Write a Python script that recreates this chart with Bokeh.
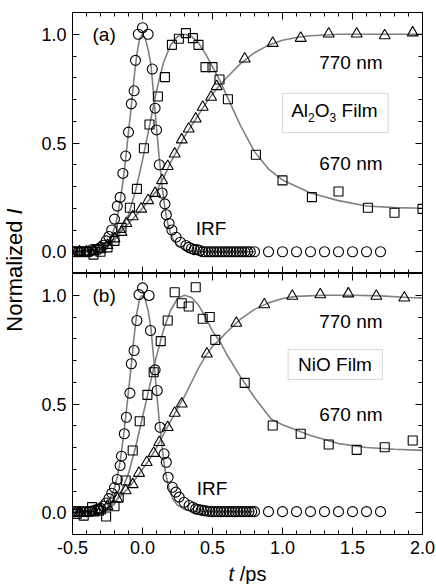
import math
from bokeh.plotting import figure
from bokeh.layouts import row, column
from bokeh.models import (Range1d, LinearAxis, SingleIntervalTicker,
                          PrintfTickFormatter, CustomJSTickFormatter, Label,
                          BoxAnnotation)
from bokeh.embed import file_html
from bokeh.resources import INLINE

# ---------------- data ----------------
# panel (a): Al2O3 film
a_irf_x = [-0.50, -0.48, -0.46, -0.44, -0.42, -0.40, -0.38, -0.36, -0.34, -0.32,
           -0.30, -0.28, -0.26, -0.24, -0.22, -0.20, -0.18, -0.16, -0.14, -0.12,
           -0.10, -0.08, -0.06, -0.05, -0.03, 0.00, 0.04, 0.07, 0.09, 0.10,
           0.12, 0.14, 0.16, 0.17, 0.19, 0.21, 0.24, 0.27, 0.31,
           0.33, 0.35, 0.37, 0.39, 0.41, 0.43, 0.45, 0.47, 0.49, 0.51, 0.53, 0.55,
           0.57, 0.59, 0.61, 0.63, 0.65, 0.67, 0.69, 0.71, 0.73, 0.75, 0.77,
           0.80, 0.90, 1.00, 1.10, 1.20, 1.30, 1.40, 1.50, 1.60, 1.70]
a_irf_y = [0.00, 0.00, 0.00, 0.00, 0.00, 0.00, 0.00, 0.01, 0.01, 0.01,
           0.02, 0.03, 0.05, 0.07, 0.10, 0.15, 0.21, 0.25, 0.36, 0.44,
           0.55, 0.68, 0.74, 0.88, 1.00, 1.03, 1.00, 0.84, 0.66, 0.56,
           0.40, 0.27, 0.22, 0.17, 0.13, 0.10, 0.067, 0.044, 0.029,
           0.02, 0.015, 0.01, 0.01, 0.005, 0.0, 0.0, 0.0, 0.0, 0.0, 0.0, 0.0,
           0.0, 0.0, 0.0, 0.0, 0.0, 0.0, 0.0, 0.0, 0.0, 0.0, 0.0,
           0.0, 0.0, 0.0, 0.0, 0.0, 0.0, 0.0, 0.0, 0.0, 0.0]
a_670_x = [-0.50, -0.45, -0.40, -0.35, -0.30, -0.25, -0.20, -0.15, -0.09, -0.04,
           0.01, 0.05, 0.11, 0.16, 0.21, 0.26, 0.31, 0.36, 0.40, 0.45, 0.50,
           0.55, 0.61, 0.81, 1.00, 1.21, 1.40, 1.61, 1.80, 2.00]
a_670_y = [0.00, 0.00, 0.00, -0.013, 0.00, 0.02, 0.05, 0.11, 0.202, 0.289,
           0.476, 0.585, 0.714, 0.803, 0.951, 0.979, 1.005, 0.982, 0.951, 0.849, 0.849,
           0.792, 0.701, 0.446, 0.328, 0.251, 0.277, 0.202, 0.179, 0.197]
a_770_x = [-0.45, -0.40, -0.35, -0.30, -0.25, -0.20, -0.15, -0.115, -0.07, -0.01,
           0.04, 0.09, 0.14, 0.18, 0.23, 0.28, 0.33, 0.38, 0.43, 0.49, 0.53,
           0.73, 0.93, 1.13, 1.33, 1.53, 1.73, 1.93]
a_770_y = [0.00, 0.00, 0.00, 0.01, 0.03, 0.06, 0.09, 0.131, 0.162, 0.197,
           0.236, 0.269, 0.328, 0.393, 0.45, 0.515, 0.565, 0.611, 0.665, 0.711, 0.76,
           0.887, 0.959, 0.982, 1.002, 1.002, 0.994, 1.007]
# fitted curves, panel (a)
a_irf_fit_x = [-0.50, -0.35, -0.30, -0.25, -0.22, -0.20, -0.18, -0.16, -0.14, -0.12,
               -0.10, -0.08, -0.06, -0.04, -0.02, 0.00, 0.02, 0.04, 0.06, 0.08,
               0.10, 0.12, 0.14, 0.16, 0.18, 0.20, 0.22, 0.25, 0.30, 0.35, 0.40, 0.80]
a_irf_fit_y = [0.00, 0.005, 0.015, 0.04, 0.075, 0.11, 0.16, 0.23, 0.32, 0.43,
               0.55, 0.67, 0.80, 0.91, 0.98, 1.00, 0.98, 0.93, 0.86, 0.72,
               0.57, 0.43, 0.30, 0.20, 0.13, 0.085, 0.055, 0.03, 0.01, 0.004, 0.0, 0.0]
a_670_fit_x = [-0.50, -0.30, -0.20, -0.10, -0.05, 0.00, 0.05, 0.10, 0.15, 0.20,
               0.25, 0.30, 0.35, 0.40, 0.45, 0.50, 0.55, 0.60, 0.70, 0.80, 0.90,
               1.00, 1.20, 1.40, 1.60, 1.80, 2.00]
a_670_fit_y = [0.00, 0.00, 0.05, 0.17, 0.28, 0.42, 0.58, 0.74, 0.87, 0.95,
               0.99, 1.00, 0.99, 0.96, 0.91, 0.85, 0.79, 0.72, 0.58, 0.46, 0.38,
               0.33, 0.27, 0.235, 0.21, 0.203, 0.20]
a_770_fit_x = [-0.50, -0.30, -0.20, -0.10, 0.00, 0.10, 0.15, 0.20, 0.25, 0.30,
               0.35, 0.40, 0.45, 0.50, 0.55, 0.60, 0.70, 0.80, 0.90, 1.00, 1.10,
               1.20, 1.40, 1.60, 1.80, 2.00]
a_770_fit_y = [0.00, 0.01, 0.06, 0.13, 0.20, 0.28, 0.34, 0.41, 0.47, 0.53,
               0.58, 0.63, 0.68, 0.725, 0.765, 0.80, 0.865, 0.915, 0.95, 0.972, 0.985,
               0.993, 1.0, 1.0, 1.0, 1.0]

# panel (b): NiO film
b_irf_x = [-0.50, -0.48, -0.46, -0.44, -0.42, -0.40, -0.38, -0.36, -0.34, -0.32,
           -0.30, -0.28, -0.26, -0.24, -0.22, -0.20, -0.18, -0.16, -0.15, -0.13,
           -0.115, -0.09, -0.08, -0.06, -0.04, -0.025, 0.00, 0.047, 0.057, 0.09,
           0.105, 0.125, 0.154, 0.17, 0.183, 0.214, 0.238, 0.262, 0.297, 0.333,
           0.36, 0.38, 0.40, 0.42, 0.44, 0.46, 0.48, 0.50, 0.52, 0.54, 0.56,
           0.58, 0.60, 0.62, 0.64, 0.66, 0.68, 0.70, 0.72, 0.74, 0.76, 0.78,
           0.80, 0.90, 1.00, 1.10, 1.20, 1.30, 1.40, 1.50, 1.60, 1.70]
b_irf_y = [0.005, 0.005, 0.005, 0.005, 0.005, 0.005, 0.005, 0.008, 0.012, 0.016,
           0.02, 0.03, 0.045, 0.065, 0.09, 0.115, 0.153, 0.217, 0.26, 0.363,
           0.439, 0.55, 0.685, 0.746, 0.884, 1.003, 1.034, 0.999, 0.838, 0.657,
           0.562, 0.393, 0.271, 0.232, 0.163, 0.117, 0.095, 0.072, 0.048, 0.033,
           0.025, 0.018, 0.015, 0.012, 0.01, 0.008, 0.006, 0.005, 0.005, 0.005, 0.005,
           0.005, 0.005, 0.005, 0.005, 0.005, 0.005, 0.005, 0.005, 0.005, 0.005, 0.005,
           0.005, 0.005, 0.005, 0.005, 0.005, 0.005, 0.005, 0.005, 0.005, 0.005]
b_670_x = [-0.47, -0.42, -0.36, -0.31, -0.26, -0.20, -0.17, -0.12, -0.07, -0.02,
           0.035, 0.08, 0.13, 0.18, 0.23, 0.28, 0.33, 0.38, 0.43, 0.48, 0.52,
           0.73, 0.93, 1.13, 1.33, 1.53, 1.73, 1.93]
b_670_y = [-0.005, -0.013, 0.026, 0.01, -0.017, 0.03, 0.07, 0.148, 0.286, 0.421,
           0.542, 0.646, 0.789, 0.884, 1.014, 0.963, 0.948, 1.037, 0.892, 0.90, 0.795,
           0.597, 0.401, 0.363, 0.314, 0.289, 0.301, 0.332]
b_770_x = [-0.45, -0.40, -0.35, -0.30, -0.25, -0.18, -0.12, -0.07, -0.025, 0.03,
           0.08, 0.12, 0.18, 0.23, 0.28, 0.46, 0.67, 0.87, 1.07, 1.27, 1.47,
           1.67, 1.87]
b_770_y = [0.00, 0.00, 0.00, 0.01, 0.03, 0.064, 0.102, 0.13, 0.182, 0.232,
           0.274, 0.324, 0.393, 0.458, 0.501, 0.731, 0.872, 0.957, 0.996, 1.003, 1.007,
           0.996, 0.988]
b_irf_fit_x = a_irf_fit_x
b_irf_fit_y = [0.005, 0.008, 0.018, 0.045, 0.08, 0.115, 0.165, 0.235, 0.33, 0.44,
               0.56, 0.68, 0.81, 0.92, 0.985, 1.00, 0.98, 0.93, 0.85, 0.71,
               0.56, 0.42, 0.30, 0.20, 0.135, 0.09, 0.06, 0.035, 0.015, 0.008, 0.005, 0.005]
b_670_fit_x = [-0.50, -0.30, -0.25, -0.20, -0.15, -0.10, -0.05, 0.00, 0.05, 0.10,
               0.15, 0.20, 0.25, 0.30, 0.35, 0.40, 0.45, 0.50, 0.55, 0.60, 0.70,
               0.80, 0.92, 1.00, 1.20, 1.40, 1.60, 1.80, 2.00]
b_670_fit_y = [0.00, 0.00, 0.01, 0.04, 0.10, 0.18, 0.30, 0.44, 0.58, 0.72,
               0.84, 0.93, 0.985, 1.00, 0.99, 0.955, 0.90, 0.835, 0.79, 0.73, 0.625,
               0.53, 0.43, 0.405, 0.355, 0.318, 0.30, 0.292, 0.287]
b_770_fit_x = [-0.50, -0.30, -0.25, -0.20, -0.15, -0.10, -0.05, 0.00, 0.05, 0.10,
               0.15, 0.20, 0.25, 0.30, 0.35, 0.40, 0.45, 0.50, 0.55, 0.60, 0.70,
               0.80, 0.90, 1.00, 1.10, 1.30, 1.50, 1.70, 1.90, 2.00]
b_770_fit_y = [0.00, 0.00, 0.02, 0.05, 0.08, 0.115, 0.155, 0.20, 0.245, 0.30,
               0.36, 0.42, 0.48, 0.535, 0.60, 0.665, 0.72, 0.765, 0.795, 0.83, 0.89,
               0.935, 0.965, 0.985, 0.995, 1.0, 1.0, 0.997, 0.99, 0.988]

x_ticks_interval = 0.5
y_ticks_interval = 0.5

FONT = "Liberation Sans"
GRAY = "#808080"

x_range = Range1d(-0.5, 2.0)


def style_axis(ax, labels):
    ax.axis_line_color = "black"
    ax.major_tick_line_color = "black"
    ax.minor_tick_line_color = "black"
    ax.major_tick_in = 7
    ax.major_tick_out = 0
    ax.minor_tick_in = 4
    ax.minor_tick_out = 0
    ax.major_label_text_font = FONT
    ax.major_label_text_color = "black"
    if labels:
        ax.major_label_text_font_size = "18px"
        ax.major_label_standoff = 6
    else:
        ax.formatter = CustomJSTickFormatter(code="return '';")
        ax.major_label_text_font_size = "1px"
        ax.major_label_standoff = 0


def panel(height, top, bottom, xlabels):
    p = figure(width=406, height=height, x_range=x_range, y_range=Range1d(-0.1, 1.1),
               toolbar_location=None, output_backend="svg",
               x_axis_location=None, y_axis_location=None,
               min_border_left=42, min_border_right=14,
               min_border_top=top, min_border_bottom=bottom)
    for g in p.grid:
        g.visible = False
    p.outline_line_color = "black"
    p.outline_line_width = 1
    fmt = PrintfTickFormatter(format="%.1f")
    xt = SingleIntervalTicker(interval=x_ticks_interval, num_minor_ticks=5)
    yt = SingleIntervalTicker(interval=y_ticks_interval, num_minor_ticks=5)
    ax = LinearAxis(ticker=yt, formatter=fmt)
    style_axis(ax, True)
    p.add_layout(ax, "left")
    ax = LinearAxis(ticker=yt)
    style_axis(ax, False)
    p.add_layout(ax, "right")
    ax = LinearAxis(ticker=xt)
    style_axis(ax, False)
    p.add_layout(ax, "above")
    ax = LinearAxis(ticker=xt, formatter=fmt)
    style_axis(ax, xlabels)
    p.add_layout(ax, "below")
    return p


def draw(p, irf, s670, s770, fits):
    for fx, fy in fits:
        p.line(fx, fy, line_color=GRAY, line_width=1.6)
    p.scatter(irf[0], irf[1], marker="circle", size=10, line_color="black",
              fill_color=None, line_width=1.1)
    p.scatter(s670[0], s670[1], marker="square", size=9, line_color="black",
              fill_color=None, line_width=1.1)
    p.scatter(s770[0], s770[1], marker="triangle", size=11, line_color="black",
              fill_color=None, line_width=1.1)


def txt(p, x, y, s, size="19px", align="left", style="normal", xo=0, yo=0):
    p.add_layout(Label(x=x, y=y, text=s, text_font=FONT, text_font_size=size,
                       text_align=align, text_baseline="middle", text_color="black",
                       text_font_style=style, x_offset=xo, y_offset=yo))


pa = panel(273, 12, 0, False)
draw(pa, (a_irf_x, a_irf_y), (a_670_x, a_670_y), (a_770_x, a_770_y),
     [(a_irf_fit_x, a_irf_fit_y), (a_670_fit_x, a_670_fit_y), (a_770_fit_x, a_770_fit_y)])
pa.add_layout(BoxAnnotation(left=1.0, right=1.755, bottom=0.548, top=0.728,
                            fill_color="white", fill_alpha=1.0,
                            line_color=GRAY, line_width=1))
txt(pa, -0.357, 1.0, "(a)")
txt(pa, 1.262, 0.872, "770 nm")
txt(pa, 1.262, 0.404, "670 nm")
txt(pa, 0.381, 0.107, "IRF")
# Al2O3 Film
txt(pa, 1.062, 0.649, "Al")
txt(pa, 1.062, 0.649, "2", size="12px", xo=16.9, yo=-7)
txt(pa, 1.062, 0.649, "O", xo=23.6)
txt(pa, 1.062, 0.649, "3", size="12px", xo=38.4, yo=-7)
txt(pa, 1.062, 0.649, "Film", xo=50.4)

pb = panel(289, 0, 28, True)
draw(pb, (b_irf_x, b_irf_y), (b_670_x, b_670_y), (b_770_x, b_770_y),
     [(b_irf_fit_x, b_irf_fit_y), (b_670_fit_x, b_670_fit_y), (b_770_fit_x, b_770_fit_y)])
pb.add_layout(BoxAnnotation(left=1.04, right=1.713, bottom=0.613, top=0.75,
                            fill_color="white", fill_alpha=1.0,
                            line_color=GRAY, line_width=1))
txt(pb, -0.357, 1.0, "(b)")
txt(pb, 1.262, 0.881, "770 nm")
txt(pb, 1.262, 0.452, "670 nm")
txt(pb, 0.388, 0.11, "IRF")
txt(pb, 1.375, 0.682, "NiO Film", align="center")

# strip below for the x-axis title "t /ps"
ps = figure(width=406, height=22, x_range=x_range, y_range=Range1d(0, 22),
            toolbar_location=None, output_backend="svg",
            x_axis_location=None, y_axis_location=None,
            min_border_left=42, min_border_right=14, min_border_top=0,
            min_border_bottom=0)
for g in ps.grid:
    g.visible = False
ps.outline_line_color = None
txt(ps, 0.615, 11, "t", size="20px", style="italic")
txt(ps, 0.615, 11, "/ps", size="20px", xo=11.1)

# y-axis title column
pl = figure(width=30, height=584, x_range=Range1d(0, 30), y_range=Range1d(0, 584),
            toolbar_location=None, output_backend="svg",
            x_axis_location=None, y_axis_location=None, min_border=0)
for g in pl.grid:
    g.visible = False
pl.outline_line_color = None
pl.add_layout(Label(x=14, y=252.8, text="Normalized", angle=math.pi / 2,
                    text_font=FONT, text_font_size="22px", text_align="left",
                    text_baseline="middle", text_color="black"))
pl.add_layout(Label(x=14, y=370.1, text="I", angle=math.pi / 2,
                    text_font=FONT, text_font_size="22px", text_align="left",
                    text_baseline="middle", text_color="black",
                    text_font_style="italic"))

root = row(pl, column(pa, pb, ps))
open("out.html", "w").write(file_html(root, INLINE))
